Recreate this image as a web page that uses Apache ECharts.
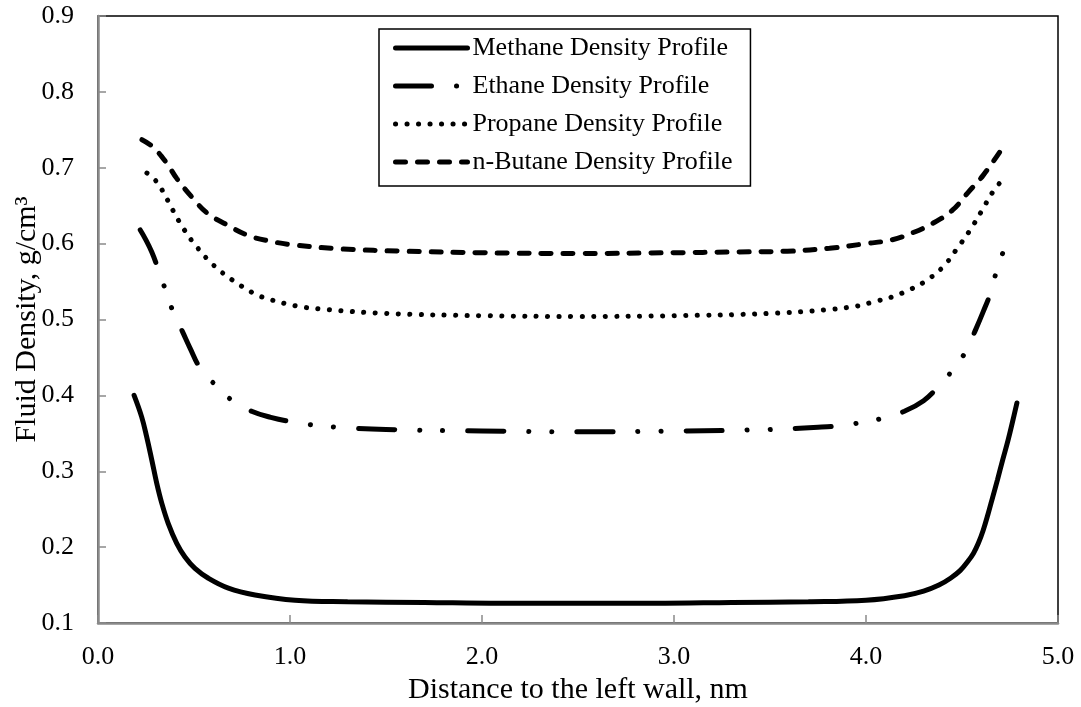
<!DOCTYPE html>
<html>
<head>
<meta charset="utf-8">
<script src="https://cdn.jsdelivr.net/npm/echarts@6/dist/echarts.min.js"></script>
<style>
  html, body { margin: 0; padding: 0; background: #fff; }
  #chart { width: 1081px; height: 707px; }
</style>
</head>
<body>
<div id="chart"></div>
<script>
// Fluid density profiles across a 5 nm slit pore (distance from the left wall, nm; density, g/cm3)
const seriesNames = ['Methane Density Profile', 'Ethane Density Profile', 'Propane Density Profile', 'n-Butane Density Profile'];

const methaneX = [0.188, 0.227, 0.253, 0.280, 0.306, 0.332, 0.366, 0.410, 0.453, 0.505, 0.575, 0.679, 0.818, 1.026, 1.30, 1.70, 2.10, 2.50, 2.90, 3.30, 3.70, 4.00, 4.20, 4.30, 4.38, 4.44, 4.49, 4.53, 4.56, 4.585, 4.61, 4.635, 4.66, 4.685, 4.712, 4.74, 4.764, 4.786];
const methaneY = [0.400, 0.372, 0.346, 0.315, 0.284, 0.258, 0.231, 0.205, 0.187, 0.172, 0.159, 0.146, 0.137, 0.130, 0.128, 0.127, 0.126, 0.126, 0.126, 0.127, 0.128, 0.130, 0.136, 0.142, 0.150, 0.159, 0.169, 0.181, 0.192, 0.205, 0.222, 0.243, 0.266, 0.289, 0.315, 0.341, 0.366, 0.390];

const ethaneX = [0.22, 0.245, 0.28, 0.31, 0.35, 0.39, 0.44, 0.48, 0.53, 0.61, 0.70, 0.80, 0.90, 1.01, 1.12, 1.25, 1.50, 2.00, 2.50, 3.00, 3.50, 3.75, 3.86, 3.97, 4.09, 4.20, 4.30, 4.375, 4.45, 4.52, 4.57, 4.61, 4.65, 4.68, 4.72];
const ethaneY = [0.618, 0.607, 0.589, 0.569, 0.540, 0.511, 0.484, 0.462, 0.437, 0.414, 0.393, 0.379, 0.371, 0.365, 0.361, 0.358, 0.355, 0.353, 0.352, 0.353, 0.355, 0.358, 0.360, 0.364, 0.370, 0.379, 0.393, 0.411, 0.433, 0.458, 0.486, 0.510, 0.536, 0.564, 0.593];

const propaneX = [0.255, 0.297, 0.333, 0.39, 0.45, 0.52, 0.60, 0.70, 0.80, 0.85, 1.03, 1.20, 1.50, 2.00, 2.50, 3.00, 3.50, 3.80, 3.96, 4.02, 4.14, 4.19, 4.30, 4.40, 4.47, 4.54, 4.60, 4.66, 4.70];
const propaneY = [0.693, 0.684, 0.671, 0.644, 0.618, 0.594, 0.572, 0.552, 0.536, 0.530, 0.518, 0.513, 0.508, 0.505, 0.504, 0.505, 0.508, 0.513, 0.518, 0.522, 0.530, 0.535, 0.549, 0.569, 0.592, 0.617, 0.642, 0.668, 0.681];

const butaneX = [0.229, 0.288, 0.358, 0.41, 0.49, 0.57, 0.67, 0.78, 0.90, 1.03, 1.27, 1.60, 2.00, 2.50, 3.00, 3.30, 3.59, 3.81, 4.00, 4.135, 4.24, 4.35, 4.45, 4.53, 4.61, 4.70];
const butaneY = [0.737, 0.727, 0.706, 0.686, 0.661, 0.640, 0.625, 0.611, 0.603, 0.598, 0.593, 0.590, 0.588, 0.587, 0.588, 0.589, 0.590, 0.594, 0.600, 0.605, 0.614, 0.627, 0.644, 0.667, 0.690, 0.722];

const xTicks = { min: 0, max: 5, step: 1 };
const yTicks = { min: 0.1, max: 0.9, step: 0.1 };

const FONT = "'Liberation Serif', 'Times New Roman', serif";
const AXIS_GREY = '#8a8a8a';

function pairs(xs, ys) {
  return xs.map((x, i) => [x, ys[i]]);
}

const lineStyles = [
  { width: 5, type: 'solid', cap: 'round' },
  { width: 5, type: [36, 25, 0.1, 23, 0.1, 25], cap: 'round' },
  { width: 5, type: [0.1, 11.4], cap: 'round' },
  { width: 5, type: [10, 12], cap: 'round' }
];

const dataSets = [
  pairs(methaneX, methaneY),
  pairs(ethaneX, ethaneY),
  pairs(propaneX, propaneY),
  pairs(butaneX, butaneY)
];

const chart = echarts.init(document.getElementById('chart'), null, { renderer: 'canvas' });

chart.setOption({
  animation: false,
  backgroundColor: '#fff',
  textStyle: { fontFamily: FONT },
  grid: {
    left: 98, right: 23, top: 16, bottom: 84,
    containLabel: false,
    outerBoundsMode: 'none',
    show: true, borderColor: '#000', borderWidth: 1.5, backgroundColor: 'transparent'
  },
  legend: {
    orient: 'vertical',
    left: 379, top: 29,
    itemWidth: 72, itemHeight: 28, itemGap: 10,
    padding: [5, 18, 10, 14],
    borderColor: '#000', borderWidth: 1.5,
    backgroundColor: '#fff',
    selectedMode: false,
    textStyle: { fontFamily: FONT, fontSize: 26, color: '#000', lineHeight: 28 },
    itemStyle: { color: 'rgba(0,0,0,0)', borderColor: 'rgba(0,0,0,0)', borderWidth: 0, opacity: 0 },
    lineStyle: { width: 5 },
    data: seriesNames.map((n, i) => ({
      name: n,
      itemStyle: { color: 'rgba(0,0,0,0)', borderColor: 'rgba(0,0,0,0)', borderWidth: 0, opacity: 0 },
      lineStyle: { width: 5, type: lineStyles[i].type, cap: 'round', color: '#000', opacity: 1 }
    }))
  },
  xAxis: {
    type: 'value',
    min: xTicks.min, max: xTicks.max, interval: xTicks.step,
    name: 'Distance to the left wall, nm',
    nameLocation: 'middle', nameGap: 52, nameMoveOverlap: false,
    nameTextStyle: { fontFamily: FONT, fontSize: 30, color: '#000' },
    axisLine: { show: true, lineStyle: { color: AXIS_GREY, width: 2.5 } },
    axisTick: { show: true, inside: true, length: 8, lineStyle: { color: AXIS_GREY, width: 1.5 } },
    axisLabel: { fontFamily: FONT, fontSize: 26, color: '#000', margin: 21, formatter: v => v.toFixed(1) },
    splitLine: { show: false }
  },
  yAxis: {
    type: 'value',
    min: yTicks.min, max: yTicks.max, interval: yTicks.step,
    name: 'Fluid Density, g/cm\u00B3',
    nameLocation: 'middle', nameGap: 56, nameMoveOverlap: false,
    nameTextStyle: { fontFamily: FONT, fontSize: 30, color: '#000' },
    axisLine: { show: true, lineStyle: { color: AXIS_GREY, width: 2.5 } },
    axisTick: { show: true, inside: true, length: 8, lineStyle: { color: AXIS_GREY, width: 1.5 } },
    axisLabel: { fontFamily: FONT, fontSize: 26, color: '#000', margin: 24, formatter: v => v.toFixed(1) },
    splitLine: { show: false }
  },
  series: seriesNames.map((n, i) => ({
    name: n,
    type: 'line',
    data: dataSets[i],
    symbol: 'none',
    showSymbol: false,
    smooth: 0.4,
    color: '#000',
    lineStyle: Object.assign({ color: '#000' }, lineStyles[i]),
    z: 3
  }))
});
</script>
</body>
</html>
